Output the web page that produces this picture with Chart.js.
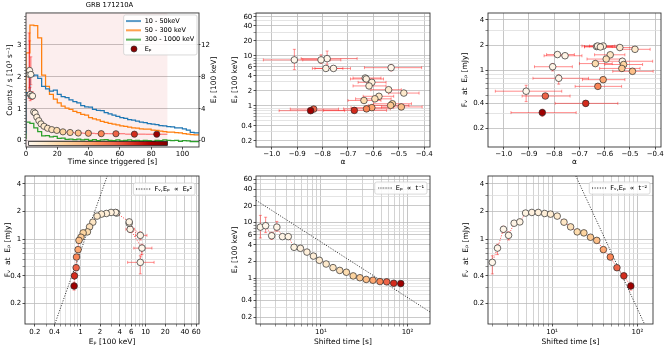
<!DOCTYPE html>
<html>
<head>
<meta charset="utf-8">
<title>GRB 171210A</title>
<script src="https://cdn.jsdelivr.net/npm/chart.js@4.4.1/dist/chart.umd.min.js"></script>
<style>
  html, body { margin:0; padding:0; background:#fff; }
  body { width:669px; height:352px; position:relative; overflow:hidden; }
  .panel { position:absolute; }
  .panel canvas { display:block; }
</style>
</head>
<body>
<script>
// ======================= DATA =======================
// time-resolved spectral fits (one entry per time bin)
const shiftedTime    = [2.0, 2.3, 2.7, 3.1, 3.6, 4.2, 4.9, 5.8, 6.9, 8.2, 9.6, 11.5, 13.8, 16.5, 19.7, 23.6, 28.2, 33.4, 39.9, 48.1, 57.5, 69.3, 83.6];
const timeBinStart   = [1.7, 2.15, 2.5, 2.9, 3.35, 3.9, 4.55, 5.35, 6.35, 7.55, 8.9, 10.55, 12.65, 15.15, 18.1, 21.65, 25.9, 30.8, 36.65, 44.0, 52.8, 63.4, 76.45];
const timeBinEnd     = [2.15, 2.5, 2.9, 3.35, 3.9, 4.55, 5.35, 6.35, 7.55, 8.9, 10.55, 12.65, 15.15, 18.1, 21.65, 25.9, 30.8, 36.65, 44.0, 52.8, 63.4, 76.45, 90.4];
const peakEnergy     = [8.3, 8.8, 5.8, 8.3, 5.6, 5.6, 3.6, 3.45, 2.95, 2.5, 2.1, 1.8, 1.55, 1.38, 1.28, 1.1, 1.02, 0.95, 0.92, 0.87, 0.86, 0.81, 0.80];
const peakEnergyLow  = [5.3, 6.6, 5.0, 7.0, 5.2, 5.2, 3.3, 3.2, 2.8, 2.37, 2.0, 1.72, 1.48, 1.32, 1.22, 1.05, 0.98, 0.91, 0.88, 0.84, 0.83, 0.78, 0.76];
const peakEnergyHigh = [13.5, 12.5, 6.7, 10.5, 6.1, 6.1, 3.9, 3.7, 3.1, 2.63, 2.2, 1.88, 1.62, 1.44, 1.34, 1.15, 1.06, 0.99, 0.96, 0.90, 0.89, 0.85, 0.84];
const alphaIndex     = [-0.911, -0.782, -0.530, -0.806, -0.757, -0.787, -0.632, -0.628, -0.606, -0.617, -0.540, -0.480, -0.578, -0.594, -0.637, -0.525, -0.532, -0.490, -0.606, -0.627, -0.835, -0.675, -0.847];
const alphaLow       = [-1.033, -0.884, -0.635, -0.878, -0.84, -0.83, -0.68, -0.69, -0.66, -0.68, -0.61, -0.54, -0.64, -0.67, -0.70, -0.60, -0.62, -0.568, -0.688, -0.717, -0.927, -0.796, -0.971];
const alphaHigh      = [-0.77, -0.664, -0.41, -0.728, -0.69, -0.72, -0.57, -0.56, -0.55, -0.55, -0.49, -0.42, -0.52, -0.53, -0.57, -0.45, -0.46, -0.408, -0.52, -0.533, -0.737, -0.548, -0.713];
const fluxAtPeak     = [0.56, 0.80, 1.28, 1.10, 1.49, 1.54, 1.92, 1.95, 1.95, 1.90, 1.87, 1.78, 1.53, 1.36, 1.20, 1.17, 1.05, 0.97, 0.77, 0.64, 0.49, 0.40, 0.31];
const fluxLow        = [0.42, 0.68, 1.18, 0.98, 1.42, 1.47, 1.84, 1.88, 1.89, 1.84, 1.81, 1.72, 1.48, 1.31, 1.15, 1.12, 1.00, 0.92, 0.73, 0.60, 0.46, 0.37, 0.28];
const fluxHigh       = [0.66, 0.88, 1.38, 1.20, 1.56, 1.61, 2.00, 2.02, 2.01, 1.96, 1.93, 1.84, 1.58, 1.41, 1.25, 1.22, 1.10, 1.02, 0.81, 0.68, 0.52, 0.43, 0.34];

// light curves (bin start times, counts in 10^3 / s)
const lcTime          = [0, 2.5, 5, 7.5, 10, 12.5, 15, 17.5, 20, 22.5, 25, 27.5, 30, 32.5, 35, 37.5, 40, 42.5, 45, 47.5, 50, 52.5, 55, 57.5, 60, 62.5, 65, 67.5, 70, 72.5, 75, 77.5, 80, 82.5, 85, 87.5, 90, 92.5, 95, 97.5, 100, 102.5, 105, 107.5, 110, 112.5];
const counts10to50    = [0.22, 1.50, 2.02, 2.05, 1.95, 1.70, 1.62, 1.55, 1.58, 1.45, 1.38, 1.35, 1.28, 1.22, 1.18, 1.10, 1.06, 1.05, 0.98, 0.95, 0.94, 0.88, 0.84, 0.80, 0.76, 0.72, 0.70, 0.66, 0.64, 0.61, 0.58, 0.56, 0.53, 0.52, 0.50, 0.47, 0.46, 0.44, 0.43, 0.40, 0.40, 0.37, 0.33, 0.26, 0.24, 0.24];
const counts50to300   = [0.30, 2.75, 3.62, 3.60, 3.22, 2.05, 1.70, 1.45, 1.30, 1.18, 1.08, 1.02, 0.98, 0.92, 0.88, 0.82, 0.80, 0.72, 0.68, 0.65, 0.60, 0.57, 0.54, 0.52, 0.49, 0.46, 0.45, 0.42, 0.40, 0.39, 0.37, 0.36, 0.36, 0.33, 0.32, 0.30, 0.28, 0.27, 0.27, 0.25, 0.24, 0.22, 0.20, 0.19, 0.18, 0.18];
const counts300to1000 = [0.05, 0.58, 0.54, 0.40, 0.28, 0.15, 0.16, 0.12, 0.13, 0.07, 0.08, 0.04, 0.05, 0.03, 0.05, 0.02, 0.04, 0.01, 0.03, 0.00, 0.02, 0.03, 0.01, 0.00, 0.02, -0.01, 0.01, 0.02, 0.00, 0.01, -0.01, 0.01, 0.00, -0.02, 0.01, 0.00, 0.02, 0.01, 0.00, 0.01, -0.02, 0.00, -0.01, -0.03, -0.03, -0.03];
const analysisWindow  = [0, 90.4];     // shaded interval [s]
const colorRange      = [1.7, 90.4];   // colour scale limits [s]

// power-law guide lines (end points)
const modelEpAxis   = [0.30, 2.8];   const modelFluxVsEp = [0.066, 5.72];   // F ~ Ep^2
const modelTimeA    = [1.5, 200];    const modelEpVsTime = [30, 0.225];     // Ep ~ t^-1
const modelTimeB    = [15, 200];     const modelFluxVsT  = [7.78, 0.04375]; // F ~ t^-2

// tick labels
const timeTicksTL      = [0, 20, 40, 60, 80, 100];
const countsTickLabels = [0, 1, 2, 3];
const epRightTicks     = [0, 4, 8, 12];
const alphaTicks       = [-1.0, -0.9, -0.8, -0.7, -0.6, -0.5, -0.4];
const epTickLabels     = [0.2, 0.4, 1, 2, 4, 6, 10, 20, 40, 60];
const fluxTickLabels   = [0.2, 0.4, 1, 2, 4];
const timeTickLabels   = [10, 100];
const legendTL = ['10 - 50keV', '50 - 300 keV', '300 - 1000 keV', 'E\u209a'];
const legendBL = 'F\u1d65,E\u209a  \u221d  E\u209a\u00b2';
const legendBM = 'E\u209a  \u221d  t\u207b\u00b9';
const legendBR = 'F\u1d65,E\u209a  \u221d  t\u207b\u00b2';
const epAxisTitle = 'E\u209a [100 keV]';
const fluxAxisTitle = 'F\u1d65  at  E\u209a [mJy]';

// ======================= STYLE / HELPERS =======================
const FS = 7;        // tick labels
const FT = 7.5;      // axis titles
const FL = 6.5;      // legend
Chart.defaults.font.family = 'DejaVu Sans';
Chart.defaults.font.size = FS;
Chart.defaults.color = '#000';

const ERR = 'rgba(255,25,25,0.5)';
const PATH = 'rgba(255,0,0,0.8)';
const GRID_MAJ = '#bcbcbc', GRID_MIN = '#dddddd';
const ORRD = ['#fff7ec','#fee8c8','#fdd49e','#fdbb84','#fc8d59','#ef6548','#d7301f','#b30000','#7f0000'];
function hx(h){ return [1,3,5].map(i => parseInt(h.substr(i,2),16)); }
function cmap(v){
  v = Math.max(0, Math.min(1, v));
  const s = v*(ORRD.length-1), i = Math.min(Math.floor(s), ORRD.length-2), f = s-i;
  const a = hx(ORRD[i]), b = hx(ORRD[i+1]);
  return 'rgb(' + a.map((c,k) => Math.round(c+(b[k]-c)*f)).join(',') + ')';
}
const pointColors = shiftedTime.map(t => cmap((t-colorRange[0])/(colorRange[1]-colorRange[0])));

function near(a,b){ return Math.abs(a-b) <= 1e-6*Math.max(1,Math.abs(b)); }
function inList(v, list){ return !!list && list.some(w => near(v,w)); }
function logGrid(min, max){
  const out = [];
  for (let e = -2; e <= 3; e++) for (let d = 1; d <= 9; d++) {
    const v = +(d*Math.pow(10,e)).toPrecision(6);
    if (v >= min && v <= max) out.push(v);
  }
  return out;
}
function stepList(a, b, s){ const out=[]; for (let v=a; v<=b+1e-9; v+=s) out.push(+v.toFixed(4)); return out; }
const plain = v => String(+(+v).toPrecision(6));
const minusFmt = v => (v < 0 ? '\u2212' : '') + Math.abs(v).toFixed(1);
const supFmt = v => ({10:'10\u00b9', 100:'10\u00b2'})[Math.round(v)] || '';

function axis(o){
  const horiz = o.position === 'bottom';
  return {
    type: o.type, position: o.position, min: o.min, max: o.max, bounds: 'data',
    afterFit: s => { if (horiz) s.height = o.size; else s.width = o.size; },
    afterBuildTicks: s => { s.ticks = o.ticks.filter(v => v >= o.min && v <= o.max).map(v => ({value: v})); },
    border: { display: false },
    grid: {
      drawOnChartArea: o.grid !== false,
      color: c => (c.tick && inList(c.tick.value, o.labels)) ? (o.maj || GRID_MAJ) : (o.min_c || GRID_MIN),
      lineWidth: 0.8,
      drawTicks: true, tickLength: o.tl ?? 2.5,
      tickColor: '#222',
      tickWidth: c => (c.tick && inList(c.tick.value, o.labels)) ? 0.8 : 0.5
    },
    ticks: { autoSkip: false, maxRotation: 0, minRotation: 0, padding: o.tp ?? 1.2, color: '#000', font: {size: FS},
             callback: v => inList(v, o.labels) ? o.fmt(v) : '' },
    title: { display: !!o.title, text: o.title, color: '#000', font: {size: FT}, padding: o.titlePad || 0 }
  };
}

const pts = (xs, ys) => xs.map((x,i) => ({x, y: ys[i]}));
function vBars(xs, lo, hi){ const d=[]; xs.forEach((x,i) => d.push({x, y: lo[i]}, {x, y: hi[i]}, {x, y: null})); return d; }
function hBars(ys, lo, hi){ const d=[]; ys.forEach((y,i) => d.push({x: lo[i], y}, {x: hi[i], y}, {x: hi[i], y: null})); return d; }
function vCaps(xs, lo, hi){ const d=[]; xs.forEach((x,i) => d.push({x, y: lo[i]}, {x, y: hi[i]})); return d; }
function hCaps(ys, lo, hi){ const d=[]; ys.forEach((y,i) => d.push({x: lo[i], y}, {x: hi[i], y})); return d; }

function markerDS(data, extra){ return Object.assign({ data, showLine: false, pointRadius: 3.3, pointBackgroundColor: pointColors,
  pointBorderColor: '#2a2a2a', pointBorderWidth: 0.7, order: 0 }, extra || {}); }
function errDS(data, extra){ return Object.assign({ data, showLine: true, spanGaps: false, borderColor: ERR, borderWidth: 1,
  pointRadius: 0, order: 3 }, extra || {}); }
function capDS(data, rot, extra){ return Object.assign({ data, showLine: false, pointStyle: 'line', pointRadius: 1.5,
  pointBorderColor: ERR, pointBorderWidth: 0.9, pointRotation: rot, order: 3 }, extra || {}); }
function pathDS(data){ return { data, showLine: true, borderColor: PATH, borderWidth: 0.9, borderDash: [1, 1.5], pointRadius: 0, order: 2 }; }
function modelDS(data){ return { data, showLine: true, borderColor: '#111', borderWidth: 0.9, borderDash: [1, 1.6], pointRadius: 0, order: 1 }; }

function symLine(color, dash, lw){
  const c = document.createElement('canvas'); c.width = 15; c.height = 4;
  const g = c.getContext('2d'); g.strokeStyle = color; g.lineWidth = lw || 1.4;
  if (dash) g.setLineDash(dash);
  g.beginPath(); g.moveTo(0, 2); g.lineTo(15, 2); g.stroke(); return c;
}
function symDot(color){
  const c = document.createElement('canvas'); c.width = 8; c.height = 8;
  const g = c.getContext('2d'); g.fillStyle = color; g.strokeStyle = '#222'; g.lineWidth = 0.6;
  g.beginPath(); g.arc(4, 4, 3, 0, Math.PI*2); g.fill(); g.stroke(); return c;
}
function legendCfg(items){
  return { display: true, position: 'chartArea', align: 'start',
    labels: { usePointStyle: true, pointStyleWidth: 15, boxHeight: FL, padding: 2.8, color: '#000', font: {size: FL},
      generateLabels: () => items.map((it, i) => ({ text: it.text, pointStyle: it.sym, fillStyle: '#fff', strokeStyle: '#fff',
        lineWidth: 0, hidden: false, datasetIndex: i, fontColor: '#000' })) } };
}

// ---- plugins ----
const framePlugin = { id: 'frame',
  afterDatasetsDraw(chart){ const {ctx, chartArea: a} = chart; ctx.save(); ctx.strokeStyle = '#333'; ctx.lineWidth = 0.9;
    ctx.strokeRect(a.left, a.top, a.right-a.left, a.bottom-a.top); ctx.restore(); } };

const legendBoxPlugin = { id: 'legendBox',
  afterLayout(chart, args, o){
    const lg = chart.legend; if (!lg || !o || !o.enabled) return;
    const a = chart.chartArea, pad = lg.options.labels.padding;
    const bw = lg.width - 10 + pad;
    lg._bw = bw;
    lg.left = a.right - o.right - bw; lg.right = lg.left + lg.width;
    lg.top = a.top + o.top; lg.bottom = a.bottom; lg.height = lg.bottom - lg.top;
  },
  afterDraw(chart, args, o){
    const lg = chart.legend; if (!lg || !o || !o.enabled) return;
    const pad = lg.options.labels.padding, n = lg.legendItems.length;
    const bh = pad + n*FL + (n-1)*pad + pad;
    const ctx = chart.ctx; ctx.save();
    ctx.beginPath(); ctx.roundRect(lg.left, lg.top, lg._bw, bh, 2);
    ctx.fillStyle = 'rgba(255,255,255,0.85)'; ctx.fill();
    ctx.strokeStyle = '#cfcfcf'; ctx.lineWidth = 0.8; ctx.stroke(); ctx.restore();
    lg.draw();
  } };

// right-hand axis title, reading bottom-to-top like the left one
const rightTitlePlugin = { id: 'rightTitle',
  afterDraw(chart, args, o){
    if (!o || !o.text) return;
    const s = chart.scales[o.axis], a = chart.chartArea, ctx = chart.ctx;
    ctx.save(); ctx.translate(s.right - o.offset, (a.top + a.bottom)/2); ctx.rotate(-Math.PI/2);
    ctx.font = FT + 'px "DejaVu Sans"'; ctx.fillStyle = '#000'; ctx.textAlign = 'center'; ctx.textBaseline = 'middle';
    ctx.fillText(o.text, 0, 0); ctx.restore();
  } };

const tlDecor = { id: 'tlDecor',
  beforeDatasetsDraw(chart){
    const {ctx, chartArea: a, scales: {x}} = chart;
    const x0 = Math.max(a.left, x.getPixelForValue(analysisWindow[0])), x1 = x.getPixelForValue(analysisWindow[1]);
    ctx.save(); ctx.fillStyle = 'rgba(230,90,90,0.10)'; ctx.fillRect(x0, a.top, x1-x0, a.bottom-a.top); ctx.restore();
  },
  afterDatasetsDraw(chart){
    const {ctx, scales: {x, y}} = chart;
    const x0 = x.getPixelForValue(colorRange[0]), x1 = x.getPixelForValue(colorRange[1]);
    const y0 = y.getPixelForValue(-0.025), y1 = y.getPixelForValue(-0.15);
    const g = ctx.createLinearGradient(x0, 0, x1, 0);
    ORRD.forEach((c, i) => g.addColorStop(i/(ORRD.length-1), c));
    ctx.save(); ctx.fillStyle = g; ctx.fillRect(x0, y0, x1-x0, y1-y0);
    ctx.strokeStyle = '#111'; ctx.lineWidth = 0.7; ctx.strokeRect(x0, y0, x1-x0, y1-y0); ctx.restore();
  } };

function makeChart(box, cfg){
  const div = document.createElement('div'); div.className = 'panel';
  Object.assign(div.style, {left: box.left+'px', top: box.top+'px', width: box.w+'px', height: box.h+'px'});
  const cv = document.createElement('canvas'); cv.width = box.w; cv.height = box.h;
  cv.style.width = box.w+'px'; cv.style.height = box.h+'px';
  div.appendChild(cv); document.body.appendChild(div);
  cfg.options = Object.assign({ responsive: false, animation: false, devicePixelRatio: 1, events: [] }, cfg.options);
  cfg.options.plugins = Object.assign({ tooltip: {enabled: false}, legend: {display: false}, title: {display: false} }, cfg.options.plugins);
  cfg.plugins = [framePlugin, legendBoxPlugin, rightTitlePlugin].concat(cfg.plugins || []);
  return new Chart(cv, cfg);
}

const epGrid   = logGrid(0.15, 72);
const fluxGrid = logGrid(0.12, 4.9);
const timeGrid = logGrid(1.7, 200);

// ======================= PANEL 1: light curves =======================
makeChart({left: 0, top: 0, w: 219, h: 168}, {
  type: 'scatter',
  data: { datasets: [
    markerDS(pts(shiftedTime, peakEnergy), {yAxisID: 'yR', pointRadius: 3.1}),
    errDS(vBars(shiftedTime, peakEnergyLow, peakEnergyHigh), {yAxisID: 'yR', borderColor: 'rgba(255,20,20,0.65)'}),
    errDS(hBars(peakEnergy, timeBinStart, timeBinEnd), {yAxisID: 'yR', borderColor: 'rgba(255,20,20,0.65)'}),
    capDS(vCaps(shiftedTime, peakEnergyLow, peakEnergyHigh), 0, {yAxisID: 'yR'}),
    { data: pts(lcTime, counts10to50),    showLine: true, stepped: 'after', borderColor: '#1f77b4', borderWidth: 1.25, pointRadius: 0, yAxisID: 'y', order: 6 },
    { data: pts(lcTime, counts50to300),   showLine: true, stepped: 'after', borderColor: '#ff7f0e', borderWidth: 1.25, pointRadius: 0, yAxisID: 'y', order: 7 },
    { data: pts(lcTime, counts300to1000), showLine: true, stepped: 'after', borderColor: '#2ca02c', borderWidth: 1.25, pointRadius: 0, yAxisID: 'y', order: 8 }
  ]},
  options: {
    layout: { padding: 0 },
    scales: {
      x: axis({type: 'linear', position: 'bottom', min: 0, max: 110.6, size: 21, ticks: timeTicksTL, labels: timeTicksTL, fmt: plain,
               grid: false, tp: 0.6, title: 'Time since triggered [s]', titlePad: {top: 0, bottom: 1.2}}),
      y: axis({type: 'linear', position: 'left', min: -0.2, max: 4.0, size: 26, ticks: stepList(-0.1, 3.9, 0.1), labels: countsTickLabels,
               fmt: plain, maj: '#b5b5b5', min_c: 'rgba(0,0,0,0)', tp: 2.5, tl: 2,
               title: 'Counts / s [10\u00b3 s\u207b\u00b9]', titlePad: {top: 5.5, bottom: 0}}),
      yR: axis({type: 'linear', position: 'right', min: -0.8, max: 16, size: 20, ticks: epRightTicks, labels: epRightTicks, fmt: plain,
               grid: false, tl: 1.5, tp: 0.6})
    },
    plugins: {
      title: { display: true, text: 'GRB 171210A', color: '#000', font: {size: 6.8, weight: 'normal'}, padding: {top: 1.4, bottom: 3.4} },
      legend: legendCfg([
        {text: legendTL[0], sym: symLine('#1f77b4')}, {text: legendTL[1], sym: symLine('#ff7f0e')},
        {text: legendTL[2], sym: symLine('#2ca02c')}, {text: legendTL[3], sym: symDot('#8b0000')}]),
      legendBox: { enabled: true, right: 2, top: 2 },
      rightTitle: { axis: 'yR', text: epAxisTitle, offset: 5 }
    }
  },
  plugins: [tlDecor]
});

// ======================= PANEL 2: Ep vs alpha =======================
makeChart({left: 226, top: 0, w: 212, h: 168}, {
  type: 'scatter',
  data: { datasets: [
    markerDS(pts(alphaIndex, peakEnergy)),
    errDS(hBars(peakEnergy, alphaLow, alphaHigh)),
    errDS(vBars(alphaIndex, peakEnergyLow, peakEnergyHigh)),
    capDS(hCaps(peakEnergy, alphaLow, alphaHigh), 90),
    capDS(vCaps(alphaIndex, peakEnergyLow, peakEnergyHigh), 0)
  ]},
  options: {
    layout: { padding: {top: 13, right: 8, left: 0, bottom: 0} },
    scales: {
      x: axis({type: 'linear', position: 'bottom', min: -1.062, max: -0.377, size: 21, ticks: alphaTicks, labels: alphaTicks, fmt: minusFmt,
               maj: '#b8b8b8', tp: 0.6, title: '\u03b1', titlePad: {top: 0, bottom: 1.2}}),
      y: axis({type: 'logarithmic', position: 'left', min: 0.15, max: 72, size: 30, ticks: epGrid, labels: epTickLabels, fmt: plain,
               title: epAxisTitle, titlePad: {top: 4.5, bottom: 0}})
    }
  }
});

// ======================= PANEL 3: F at Ep vs alpha =======================
makeChart({left: 454, top: 0, w: 215, h: 168}, {
  type: 'scatter',
  data: { datasets: [
    markerDS(pts(alphaIndex, fluxAtPeak)),
    errDS(hBars(fluxAtPeak, alphaLow, alphaHigh)),
    errDS(vBars(alphaIndex, fluxLow, fluxHigh)),
    capDS(hCaps(fluxAtPeak, alphaLow, alphaHigh), 90),
    capDS(vCaps(alphaIndex, fluxLow, fluxHigh), 0)
  ]},
  options: {
    layout: { padding: {top: 13, right: 8, left: 0, bottom: 0} },
    scales: {
      x: axis({type: 'linear', position: 'bottom', min: -1.062, max: -0.377, size: 21, ticks: alphaTicks, labels: alphaTicks, fmt: minusFmt,
               maj: '#b8b8b8', tp: 0.6, title: '\u03b1', titlePad: {top: 0, bottom: 1.2}}),
      y: axis({type: 'logarithmic', position: 'left', min: 0.12, max: 4.85, size: 34, ticks: fluxGrid, labels: fluxTickLabels, fmt: plain,
               title: fluxAxisTitle, titlePad: {top: 6.2, bottom: 0}})
    }
  }
});

// ======================= PANEL 4: F at Ep vs Ep =======================
makeChart({left: 0, top: 170, w: 209, h: 182}, {
  type: 'scatter',
  data: { datasets: [
    markerDS(pts(peakEnergy, fluxAtPeak)),
    modelDS(pts(modelEpAxis, modelFluxVsEp)),
    pathDS(pts(peakEnergy, fluxAtPeak)),
    errDS(hBars(fluxAtPeak, peakEnergyLow, peakEnergyHigh)),
    errDS(vBars(peakEnergy, fluxLow, fluxHigh)),
    capDS(hCaps(fluxAtPeak, peakEnergyLow, peakEnergyHigh), 90),
    capDS(vCaps(peakEnergy, fluxLow, fluxHigh), 0)
  ]},
  options: {
    layout: { padding: {top: 6, right: 10, left: 0, bottom: 0} },
    scales: {
      x: axis({type: 'logarithmic', position: 'bottom', min: 0.141, max: 66, size: 28, ticks: epGrid, labels: epTickLabels, fmt: plain,
               tp: 1.0, title: epAxisTitle, titlePad: {top: 0, bottom: 5.0}}),
      y: axis({type: 'logarithmic', position: 'left', min: 0.12, max: 4.85, size: 25, ticks: fluxGrid, labels: fluxTickLabels, fmt: plain,
               title: fluxAxisTitle, titlePad: {top: 4.0, bottom: 0}})
    },
    plugins: { legend: legendCfg([{text: legendBL, sym: symLine('#111', [1, 1.6], 1)}]), legendBox: { enabled: true, right: 4, top: 7 } }
  }
});

// ======================= PANEL 5: Ep vs shifted time =======================
makeChart({left: 226, top: 170, w: 212, h: 182}, {
  type: 'scatter',
  data: { datasets: [
    markerDS(pts(shiftedTime, peakEnergy)),
    modelDS(pts(modelTimeA, modelEpVsTime)),
    pathDS(pts(shiftedTime, peakEnergy)),
    errDS(vBars(shiftedTime, peakEnergyLow, peakEnergyHigh)),
    capDS(vCaps(shiftedTime, peakEnergyLow, peakEnergyHigh), 0)
  ]},
  options: {
    layout: { padding: {top: 6, right: 8, left: 0, bottom: 0} },
    scales: {
      x: axis({type: 'logarithmic', position: 'bottom', min: 1.78, max: 182, size: 28, ticks: timeGrid, labels: timeTickLabels, fmt: supFmt,
               maj: '#b8b8b8', min_c: '#c8c8c8', tp: 1.0, title: 'Shifted time [s]', titlePad: {top: 0, bottom: 5.0}}),
      y: axis({type: 'logarithmic', position: 'left', min: 0.15, max: 69, size: 30, ticks: epGrid, labels: epTickLabels, fmt: plain,
               title: epAxisTitle, titlePad: {top: 4.5, bottom: 0}})
    },
    plugins: { legend: legendCfg([{text: legendBM, sym: symLine('#111', [1, 1.6], 1)}]), legendBox: { enabled: true, right: 3, top: 6 } }
  }
});

// ======================= PANEL 6: F at Ep vs shifted time =======================
makeChart({left: 454, top: 170, w: 215, h: 182}, {
  type: 'scatter',
  data: { datasets: [
    markerDS(pts(shiftedTime, fluxAtPeak)),
    modelDS(pts(modelTimeB, modelFluxVsT)),
    pathDS(pts(shiftedTime, fluxAtPeak)),
    errDS(vBars(shiftedTime, fluxLow, fluxHigh)),
    capDS(vCaps(shiftedTime, fluxLow, fluxHigh), 0)
  ]},
  options: {
    layout: { padding: {top: 6, right: 16, left: 0, bottom: 0} },
    scales: {
      x: axis({type: 'logarithmic', position: 'bottom', min: 1.78, max: 152, size: 28, ticks: timeGrid, labels: timeTickLabels, fmt: supFmt,
               maj: '#b8b8b8', min_c: '#c8c8c8', tp: 1.0, title: 'Shifted time [s]', titlePad: {top: 0, bottom: 5.0}}),
      y: axis({type: 'logarithmic', position: 'left', min: 0.12, max: 4.85, size: 34, ticks: fluxGrid, labels: fluxTickLabels, fmt: plain,
               title: fluxAxisTitle, titlePad: {top: 7.8, bottom: 0}})
    },
    plugins: { legend: legendCfg([{text: legendBR, sym: symLine('#111', [1, 1.6], 1)}]), legendBox: { enabled: true, right: 3, top: 6 } }
  }
});
</script>
</body>
</html>
